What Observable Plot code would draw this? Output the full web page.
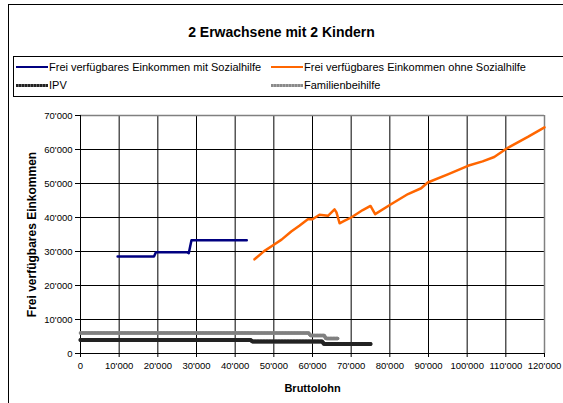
<!DOCTYPE html>
<html>
<head>
<meta charset="utf-8">
<script src="https://cdn.jsdelivr.net/npm/d3@7"></script>
<script src="https://cdn.jsdelivr.net/npm/@observablehq/plot@0.6"></script>
<style>
  html, body { margin: 0; padding: 0; background: #fff; overflow: hidden; }
  #wrap { position: relative; width: 563px; height: 403px; overflow: hidden; font-family: "Liberation Sans", Arial, sans-serif; }
  #frame { position: absolute; left: 8px; top: 4px; width: 700px; height: 500px; border: 1px solid #000; }
  #title { position: absolute; left: 0; width: 563px; top: 24px; text-align: center; font-weight: bold; font-size: 14px; }
  #legend { position: absolute; left: 13px; top: 56px; width: 700px; height: 39px; border: 1px solid #000; }
  .item { position: absolute; font-size: 11px; line-height: 12px; white-space: nowrap; }
  .sym { position: absolute; width: 32px; }
  #chart { position: absolute; left: 0; top: 100px; }
  #chart svg { overflow: visible; }
</style>
</head>
<body>
<div id="wrap">
  <div id="frame"></div>
  <div id="title">2 Erwachsene mit 2 Kindern</div>
  <div id="legend"></div>
  <div id="chart"></div>
</div>
<script>
// Series: Frei verfügbares Einkommen mit Sozialhilfe
const sozX = [9600, 19000, 19500, 27500, 28000, 28700, 43000];
const sozY = [28500, 28500, 29800, 29800, 29500, 33300, 33300];
// Series: Frei verfügbares Einkommen ohne Sozialhilfe
const ohneX = [45000, 47500, 50000, 52000, 54500, 56600, 58800, 60000, 61800, 64000, 65700, 66200, 67000, 68200, 70000, 73000, 75000, 76200, 80300, 84700, 88100, 89800, 95000, 100200, 104000, 107000, 110500, 115700, 120000];
const ohneY = [27700, 30100, 32000, 33500, 35900, 37600, 39500, 39500, 40800, 40500, 42400, 41500, 38300, 39000, 40000, 42200, 43400, 41000, 43900, 46900, 48600, 50300, 52700, 55200, 56500, 57800, 60500, 63700, 66500];
// Series: IPV
const ipvX = [0, 44000, 44500, 62500, 63000, 75000];
const ipvY = [4000, 4000, 3500, 3500, 2800, 2800];
// Series: Familienbeihilfe
const fbX = [0, 59000, 59500, 63000, 63500, 66500];
const fbY = [6000, 6000, 5300, 5300, 4400, 4400];

const xTicks = [0, 10000, 20000, 30000, 40000, 50000, 60000, 70000, 80000, 90000, 100000, 110000, 120000];
const yTicks = [0, 10000, 20000, 30000, 40000, 50000, 60000, 70000];

const seriesNames = ["Frei verfügbares Einkommen mit Sozialhilfe", "Frei verfügbares Einkommen ohne Sozialhilfe", "IPV", "Familienbeihilfe"];
const xLabel = "Bruttolohn";
const yLabel = "Frei verfügbares Einkommen";

const toPts = (xs, ys) => xs.map((x, i) => ({x, y: ys[i]}));
const fmt = d => d3.format(",")(d).replace(/,/g, "'");

// Legend
const legend = document.getElementById("legend");
const legendSpec = [
  {name: seriesNames[0], left: 2, top: 10, bg: "#000080", h: 2},
  {name: seriesNames[1], left: 257, top: 10, bg: "#FF6600", h: 2},
  {name: seriesNames[2], left: 2, top: 28, bg: "repeating-linear-gradient(90deg,#222 0 2px,#666 2px 3px)", h: 3},
  {name: seriesNames[3], left: 257, top: 28, bg: "repeating-linear-gradient(90deg,#8a8a8a 0 2px,#aaa 2px 3px)", h: 3}
];
for (const s of legendSpec) {
  const sym = document.createElement("div");
  sym.className = "sym";
  sym.style.left = s.left + "px";
  sym.style.top = (s.top - s.h / 2) + "px";
  sym.style.height = s.h + "px";
  sym.style.background = s.bg;
  legend.appendChild(sym);
  const t = document.createElement("div");
  t.className = "item";
  t.style.left = (s.left + 33) + "px";
  t.style.top = (s.top - 6) + "px";
  t.textContent = s.name;
  legend.appendChild(t);
}

const chart = Plot.plot({
  width: 563,
  height: 303,
  marginTop: 15,
  marginBottom: 50,
  marginLeft: 80,
  marginRight: 19,
  style: {fontFamily: "'Liberation Sans', Arial, sans-serif", fontSize: "9.5px", background: "transparent", color: "#000", overflow: "visible"},
  x: {domain: [0, 120000]},
  y: {domain: [0, 70000]},
  marks: [
    Plot.gridX({ticks: xTicks, stroke: "#000", strokeOpacity: 1, strokeWidth: 1}),
    Plot.gridY({ticks: yTicks, stroke: "#000", strokeOpacity: 1, strokeWidth: 1}),
    Plot.ruleY([70000], {stroke: "#808080", strokeWidth: 1.5}),
    Plot.ruleX([120000], {stroke: "#808080", strokeWidth: 1.5}),
    Plot.ruleY([0], {stroke: "#000"}),
    Plot.ruleX([0], {stroke: "#000"}),
    Plot.axisX({ticks: xTicks, tickSize: 4, tickPadding: 5, tickFormat: fmt, label: null, fontSize: 9.5}),
    Plot.axisY({ticks: yTicks, tickSize: 5, tickPadding: 3, tickFormat: fmt, label: null, fontSize: 9.5}),
    Plot.line(toPts(fbX, fbY), {x: "x", y: "y", stroke: "#999", strokeWidth: 3.5}),
    Plot.line(toPts(fbX, fbY), {x: "x", y: "y", stroke: "#808080", strokeWidth: 3.5, strokeDasharray: "2,1"}),
    Plot.line(toPts(ipvX, ipvY), {x: "x", y: "y", stroke: "#666", strokeWidth: 4}),
    Plot.line(toPts(ipvX, ipvY), {x: "x", y: "y", stroke: "#222", strokeWidth: 4, strokeDasharray: "2,1"}),
    Plot.line(toPts(sozX, sozY), {x: "x", y: "y", stroke: "#000080", strokeWidth: 2.5}),
    Plot.line(toPts(ohneX, ohneY), {x: "x", y: "y", stroke: "#FF6600", strokeWidth: 2.5}),
    Plot.text([xLabel], {text: d => d, frameAnchor: "bottom", dy: 38, textAnchor: "middle", fontWeight: "bold", fontSize: 11}),
    Plot.text([yLabel], {text: d => d, frameAnchor: "left", dx: -48, rotate: -90, textAnchor: "middle", fontWeight: "bold", fontSize: 12})
  ]
});
document.getElementById("chart").appendChild(chart);
</script>
</body>
</html>
